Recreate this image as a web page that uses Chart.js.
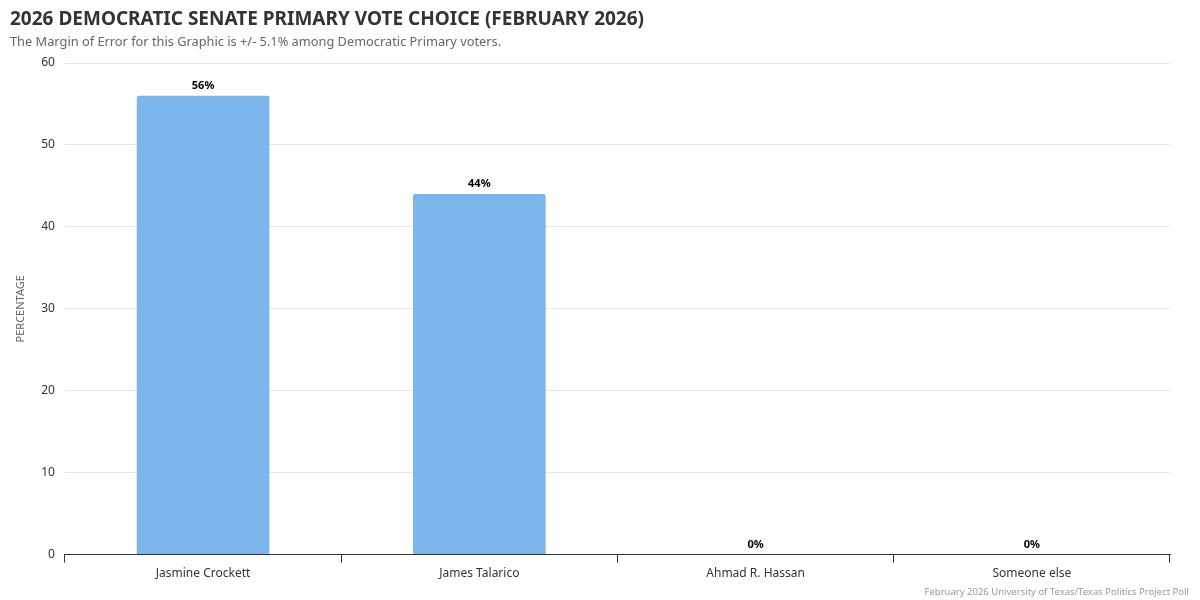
<!DOCTYPE html>
<html><head><meta charset="utf-8">
<script src="https://cdn.jsdelivr.net/npm/chart.js@4"></script>
<style>html,body{margin:0;padding:0;background:#fff}#w{width:1200px;height:600px}</style>
</head><body><div id="w"><canvas id="c"></canvas></div>
<script>
const categories = ["Jasmine Crockett","James Talarico","Ahmad R. Hassan","Someone else"];
const values = [56,44,0,0];
const yTicks = [0,10,20,30,40,50,60];
const titleText = "2026 DEMOCRATIC SENATE PRIMARY VOTE CHOICE (FEBRUARY 2026)";
const subtitleText = "The Margin of Error for this Graphic is +/- 5.1% among Democratic Primary voters.";
const creditText = "February 2026 University of Texas/Texas Politics Project Poll";
const F = "'Noto Sans', sans-serif";
const deco = {
  id:'deco',
  afterDraw(ch){
    const c=ch.ctx; c.save();
    c.textBaseline='alphabetic'; c.textAlign='left';
    c.fillStyle='#333'; c.font="bold 19px "+F; c.fillText(titleText,10,25);
    c.fillStyle='#666'; c.font="12.8px "+F; c.fillText(subtitleText,10,46);
    c.textAlign='right'; c.fillStyle='#999'; c.font="9.5px "+F; c.fillText(creditText,1189,595);
    const m=ch.getDatasetMeta(0);
    c.textAlign='center'; c.fillStyle='#000'; c.font="bold 11px "+F;
    m.data.forEach((b,i)=>{c.fillText(values[i]+'%',b.x,b.y-7);});
    c.restore();
  }
};
new Chart(document.getElementById('c'),{
  type:'bar',
  data:{labels:categories,datasets:[{data:values,backgroundColor:'#7cb5ec',barPercentage:0.48,categoryPercentage:1,borderRadius:{topLeft:2,topRight:2}}]},
  options:{responsive:true,maintainAspectRatio:false,animation:false,
    layout:{padding:{top:63,right:30,left:10,bottom:15}},
    plugins:{legend:{display:false},tooltip:{enabled:false}},
    scales:{
      x:{grid:{drawOnChartArea:false,tickLength:8,color:'#333'},border:{color:'#333'},
         ticks:{color:'#333',font:{family:F,size:12},padding:4}},
      y:{min:0,max:60,afterBuildTicks:a=>{a.ticks=yTicks.map(v=>({value:v}));},
         grid:{color:'#e6e6e6',drawTicks:false},border:{display:false},
         ticks:{color:'#333',font:{family:F,size:12},padding:10},
         title:{display:true,text:'PERCENTAGE',color:'#666',font:{family:F,size:11}}}
    }},
  plugins:[deco]
});
</script></body></html>
